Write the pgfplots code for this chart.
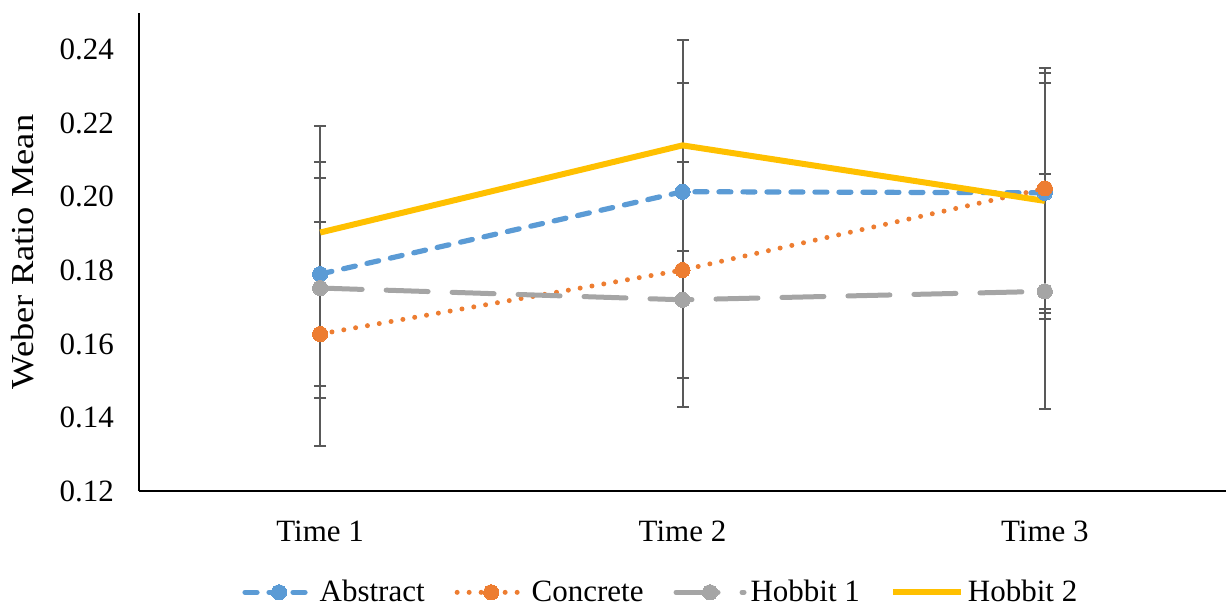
\documentclass[border=0pt]{standalone}
\usepackage{fontspec}
\setmainfont{Liberation Serif}
\usepackage{pgfplots}
\usepackage{pgfplotstable}
\pgfplotsset{compat=1.18}
\definecolor{cabs}{HTML}{5B9BD5}
\definecolor{ccon}{HTML}{ED7D31}
\definecolor{chobA}{HTML}{A5A5A5}
\definecolor{chobB}{HTML}{FFC000}
\definecolor{cerr}{HTML}{595959}

\pgfplotstableread{
x y e
1 0.1790 0.0305
2 0.2014 0.0295
3 0.2011 0.0327
}\abstractdata
\pgfplotstableread{
x y e
1 0.1627 0.0305
2 0.1801 0.0293
3 0.2023 0.0327
}\concretedata
\pgfplotstableread{
x y e
1 0.1752 0.0299
2 0.1720 0.0291
3 0.1743 0.0320
}\hobbitonedata
\pgfplotstableread{
x y e
1 0.1903 0.0290
2 0.2140 0.0287
3 0.1989 0.0321
}\hobbittwodata

\begin{document}
\begin{tikzpicture}
\begin{axis}[
  name=ax,
  scale only axis,
  width=543.5pt, height=239pt,
  xmin=0.5, xmax=3.5,
  ymin=0.12, ymax=0.25,
  axis lines=left,
  axis line style={-, black, line width=0.65pt},
  xtick={1,2,3},
  xticklabels={Time 1, Time 2, Time 3},
  ytick={0.12,0.14,0.16,0.18,0.20,0.22,0.24},
  major tick length=0pt,
  font=\fontsize{15.5pt}{18pt}\selectfont,
  /pgf/number format/assume math mode=true,
  yticklabel style={/pgf/number format/fixed, /pgf/number format/fixed zerofill, /pgf/number format/precision=2, anchor=east, xshift=-9pt},
  xticklabel style={anchor=base, yshift=-25pt},
  ylabel={Weber Ratio Mean},
  every axis y label/.style={at={(axis description cs:-0.1067,0.5)}, anchor=center, rotate=90, xscale=1.14, font=\fontsize{16pt}{19pt}\selectfont},
  legend style={at={(0.481,-0.212)}, anchor=center, draw=none, fill=none,
    legend columns=-1, font=\fontsize{15.5pt}{18pt}\selectfont,
    /tikz/every even column/.append style={column sep=13pt}},
  legend image code/.code={
    \draw[mark repeat=2, mark phase=2, #1] plot coordinates {(0pt,0pt) (17pt,0pt) (34pt,0pt)};
  },
  clip=false,
]
% error bars (drawn first, below the series)
\addplot[forget plot, draw=none, mark=none, error bars/.cd, y dir=both, y explicit,
  error bar style={draw=cerr, line width=1pt, solid},
  error mark options={draw=cerr, rotate=90, mark size=3pt, line width=1pt, solid}]
  table[x=x, y=y, y error=e] {\abstractdata};
\addplot[forget plot, draw=none, mark=none, error bars/.cd, y dir=both, y explicit,
  error bar style={draw=cerr, line width=1pt, solid},
  error mark options={draw=cerr, rotate=90, mark size=3pt, line width=1pt, solid}]
  table[x=x, y=y, y error=e] {\concretedata};
\addplot[forget plot, draw=none, mark=none, error bars/.cd, y dir=both, y explicit,
  error bar style={draw=cerr, line width=1pt, solid},
  error mark options={draw=cerr, rotate=90, mark size=3pt, line width=1pt, solid}]
  table[x=x, y=y, y error=e] {\hobbitonedata};
\addplot[forget plot, draw=none, mark=none, error bars/.cd, y dir=both, y explicit,
  error bar style={draw=cerr, line width=1pt, solid},
  error mark options={draw=cerr, rotate=90, mark size=3pt, line width=1pt, solid}]
  table[x=x, y=y, y error=e] {\hobbittwodata};

% series
\addplot[cabs, line width=2.6pt, line cap=round, dash pattern=on 6pt off 6pt,
  mark=*, mark size=3.8pt, mark options={solid, fill=cabs, draw=cabs, line width=0pt}]
  table[x=x, y=y] {\abstractdata};
\addlegendentry{Abstract}
\addplot[ccon, line width=2.5pt, line cap=round, dash pattern=on 0pt off 6pt,
  mark=*, mark size=3.8pt, mark options={solid, fill=ccon, draw=ccon, line width=0pt}]
  table[x=x, y=y] {\concretedata};
\addlegendentry{Concrete}
\addplot[chobA, line width=2.5pt, line cap=round, dash pattern=on 21pt off 12pt,
  mark=*, mark size=3.8pt, mark options={solid, fill=chobA, draw=chobA, line width=0pt}]
  table[x=x, y=y] {\hobbitonedata};
\addlegendentry{Hobbit 1}
\addplot[chobB, line width=3pt, line join=round, mark=none]
  table[x=x, y=y] {\hobbittwodata};
\addlegendentry{Hobbit 2}
\end{axis}
\pgfresetboundingbox
\path ([shift={(-69.5pt,-58pt)}]ax.south west) rectangle ([shift={(0pt,6.5pt)}]ax.north east);
\end{tikzpicture}
\end{document}
